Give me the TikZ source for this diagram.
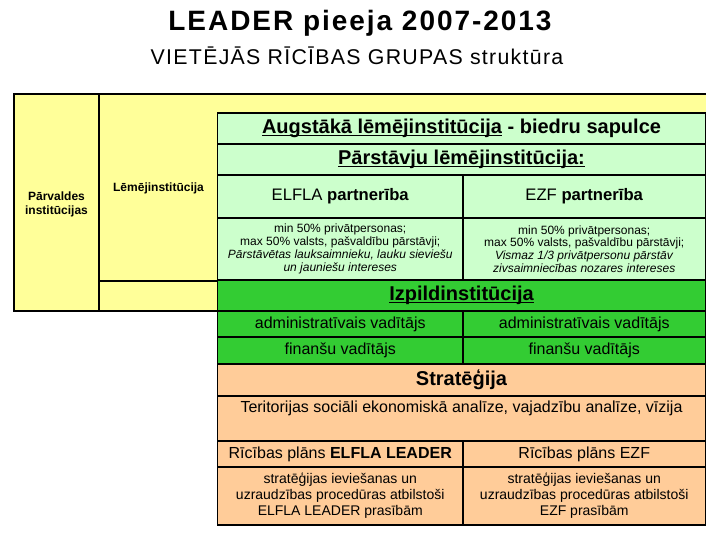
\documentclass[tikz,border=0pt]{standalone}
\usepackage{fontspec}
\setmainfont{Liberation Sans}
\newfontfamily\titlefont[LetterSpace=7]{Liberation Sans}
\newfontfamily\subtitlefont[LetterSpace=6]{Liberation Sans}
\usetikzlibrary{positioning}
\definecolor{paleyellow}{HTML}{FFFF99}
\definecolor{palegreen}{HTML}{CCFFCC}
\definecolor{leafgreen}{HTML}{33CC33}
\definecolor{peach}{HTML}{FFCC99}
\newcommand{\pxu}{0.75pt}
\newcommand{\undl}[1]{\underline{\raisebox{0pt}[\height][0pt]{#1}}\strut}
\newcommand{\rowheadfont}{\fontsize{15}{18}\selectfont\bfseries}
\newcommand{\cellfont}{\fontsize{12}{14}\selectfont}
\newcommand{\notefont}{\fontsize{9}{9.6}\selectfont}
\newcommand{\procfont}{\fontsize{10.5}{12}\selectfont}
\newcommand{\sidefont}{\fontsize{9}{10.5}\selectfont\bfseries}

\begin{document}
\begin{tikzpicture}[x=0.75pt, y=-0.75pt, line width=0.8pt, cell/.style={draw, rectangle, outer sep=0pt, inner sep=2pt, anchor=north west, align=center}]
% Define styles for the rows and columns of the table
\tikzstyle{wide} = [cell, minimum width=488*\pxu]
\tikzstyle{lcol} = [cell, minimum width=245.5*\pxu]
\tikzstyle{rcol} = [cell, minimum width=242.5*\pxu]
\tikzstyle{council} = [fill=palegreen]
\tikzstyle{office} = [fill=leafgreen]
\tikzstyle{plan} = [fill=peach]

\useasboundingbox (0,0) rectangle (720,540);

% Titles
\node[font=\titlefont\fontsize{21}{25}\selectfont\bfseries, anchor=base] (title) at (360,30) {LEADER pieeja 2007-2013};
\node[font=\subtitlefont\fontsize{16}{19}\selectfont, anchor=base] (subtitle) at (357,64) {VIETĒJĀS RĪCĪBAS GRUPAS struktūra};

% Yellow frame on the left
\fill[paleyellow] (14,94) rectangle (705.5,311);
\draw (705.5,94) -- (14,94) -- (14,311) -- (217.5,311);
\draw (99,94) -- (99,311);
\draw (99,281) -- (217.5,281);
\node[font=\sidefont, align=center] (parvaldes) at (56.5,204) {Pārvaldes\\institūcijas};
\node[font=\sidefont] (lemej) at (158.5,188) {Lēmējinstitūcija};

% Nodes placement
\node[wide, council, minimum height=31*\pxu, font=\rowheadfont] (augst) at (217.5,113) {\undl{Augstākā lēmējinstitūcija} - biedru sapulce};
\node[wide, council, minimum height=31*\pxu, font=\rowheadfont, below=0pt of augst] (parst) {\undl{Pārstāvju lēmējinstitūcija:}};
\node[lcol, council, minimum height=43*\pxu, font=\fontsize{12.5}{15}\selectfont, below right=0pt and 0pt of parst.south west] (elflap) {ELFLA \textbf{partnerība}};
\node[rcol, council, minimum height=43*\pxu, font=\fontsize{12.5}{15}\selectfont, right=0pt of elflap] (ezfp) {EZF \textbf{partnerība}};
\node[lcol, council, minimum height=62*\pxu, font=\notefont, below=0pt of elflap] (elflat) {min 50\% privātpersonas;\\max 50\% valsts, pašvaldību pārstāvji;\\\textit{Pārstāvētas lauksaimnieku, lauku sieviešu}\\\textit{un jauniešu intereses}};
\node[rcol, council, minimum height=62*\pxu, font=\notefont, below=0pt of ezfp] (ezft) {min 50\% privātpersonas;\\max 50\% valsts, pašvaldību pārstāvji;\\\textit{Vismaz 1/3 privātpersonu pārstāv}\\\textit{zivsaimniecības nozares intereses}};

\node[wide, office, minimum height=31*\pxu, font=\rowheadfont, below right=0pt and 0pt of elflat.south west] (izpild) {\undl{Izpildinstitūcija}};
\node[lcol, office, minimum height=26*\pxu, font=\cellfont, below right=0pt and 0pt of izpild.south west] (admin1) {administratīvais vadītājs};
\node[rcol, office, minimum height=26*\pxu, font=\cellfont, right=0pt of admin1] (admin2) {administratīvais vadītājs};
\node[lcol, office, minimum height=27*\pxu, font=\cellfont, below=0pt of admin1] (fin1) {finanšu vadītājs};
\node[rcol, office, minimum height=27*\pxu, font=\cellfont, below=0pt of admin2] (fin2) {finanšu vadītājs};

\node[wide, plan, minimum height=32*\pxu, font=\rowheadfont, below right=0pt and 0pt of fin1.south west] (strat) {Stratēģija};
\node[wide, plan, minimum height=45*\pxu, font=\cellfont, below=0pt of strat] (terit) {\strut Teritorijas sociāli ekonomiskā analīze, vajadzību analīze, vīzija\\\strut};
\node[lcol, plan, minimum height=26*\pxu, font=\cellfont, below right=0pt and 0pt of terit.south west] (ricelfla) {Rīcības plāns \textbf{ELFLA LEADER}};
\node[rcol, plan, minimum height=26*\pxu, font=\cellfont, right=0pt of ricelfla] (ricezf) {Rīcības plāns EZF};
\node[lcol, plan, minimum height=58*\pxu, font=\procfont, below=0pt of ricelfla] (procelfla) {stratēģijas ieviešanas un\\uzraudzības procedūras atbilstoši\\ELFLA LEADER prasībām};
\node[rcol, plan, minimum height=58*\pxu, font=\procfont, below=0pt of ricezf] (procezf) {stratēģijas ieviešanas un\\uzraudzības procedūras atbilstoši\\EZF prasībām};

\end{tikzpicture}
\end{document}
